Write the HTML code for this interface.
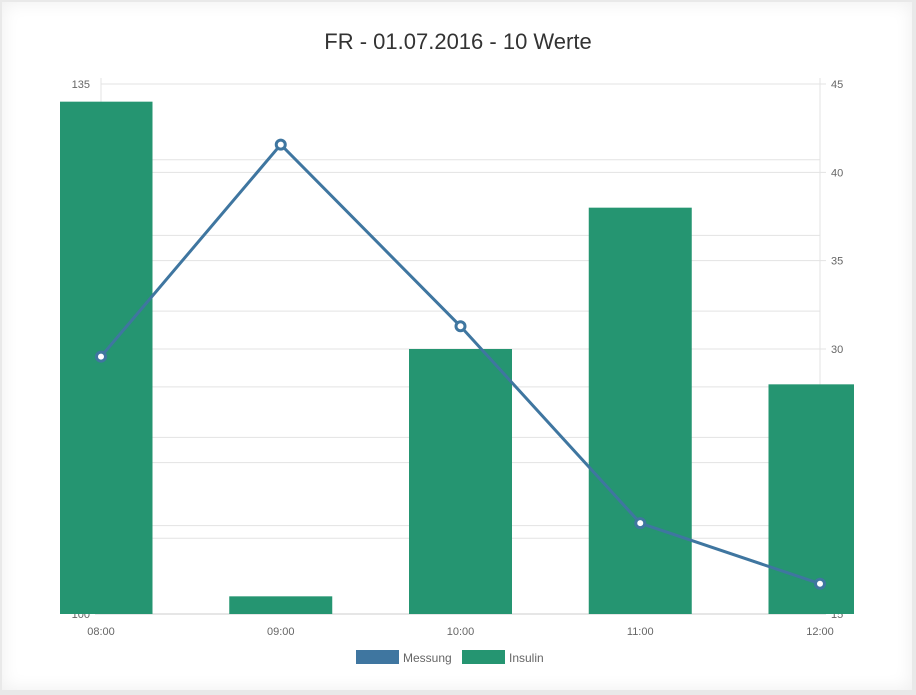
<!DOCTYPE html>
<html><head><meta charset="utf-8"><style>
body{margin:0;width:916px;height:695px;background:#e9e9e9;font-family:"Liberation Sans",sans-serif;overflow:hidden}
#card{position:absolute;left:2px;top:2px;width:910px;height:688px;background:#fff;box-shadow:inset 0 0 18px rgba(0,0,0,0.07)}
svg{position:absolute;left:0;top:0}
</style></head><body>
<div id="card"></div>
<svg id="chart" width="916" height="695">
<defs><clipPath id="plotclip"><rect x="60" y="0" width="794" height="695"/></clipPath></defs>
<text x="458" y="49" text-anchor="middle" font-size="22" fill="#333">FR - 01.07.2016 - 10 Werte</text>
<g id="grid"></g><g id="labels"></g><g id="bars" clip-path="url(#plotclip)"></g><g id="line"></g>
<g>
<rect x="356" y="650" width="43" height="14" fill="#3f76a0"/>
<text x="403" y="662" font-size="12" fill="#666">Messung</text>
<rect x="462" y="650" width="43" height="14" fill="#259571"/>
<text x="509" y="662" font-size="12" fill="#666">Insulin</text>
</g>
</svg>
<script>
const categories=["08:00","09:00","10:00","11:00","12:00"];
const messung=[117,131,119,106,102];
const insulin=[44,16,30,38,28];
const leftTicks=[100,105,110,115,120,125,130,135];
const rightTicks=[15,20,25,30,35,40,45];
const NS="http://www.w3.org/2000/svg";
const yTop=84,yBot=614,x0=101,x1=820;
const yL=v=>yBot-(v-100)/35*(yBot-yTop);
const yR=v=>yBot-(v-15)/30*(yBot-yTop);
const xC=i=>x0+i*(x1-x0)/(categories.length-1);
function mk(t,a,p){const e=document.createElementNS(NS,t);for(const k in a)e.setAttribute(k,a[k]);document.getElementById(p).appendChild(e);return e;}
leftTicks.forEach(v=>{const l=mk('line',{x1:x0,x2:x1,y1:yL(v),y2:yL(v),stroke:'#e3e3e3'},'grid');


const t=mk('text',{x:90,y:yL(v)+4,'text-anchor':'end','font-size':11,fill:'#666'},'labels');t.textContent=v;

});
rightTicks.forEach(v=>{const l=mk('line',{x1:x0,x2:x1+6,y1:yR(v),y2:yR(v),stroke:'#e3e3e3'},'grid');


const t=mk('text',{x:831,y:yR(v)+4,'font-size':11,fill:'#666'},'labels');t.textContent=v;

});
[x0,x1].forEach(x=>{const l=mk('line',{x1:x,x2:x,y1:yTop-6,y2:yBot,stroke:'#e3e3e3'},'grid');

});
const ax=mk('line',{x1:x0-6,x2:x1+6,y1:yBot,y2:yBot,stroke:'#ccc'},'grid');


categories.forEach((c,i)=>{const t=mk('text',{x:xC(i),y:635,'text-anchor':'middle','font-size':11,fill:'#666'},'labels');t.textContent=c;


const b=mk('rect',{x:xC(i)-51.5,y:yR(insulin[i]),width:103,height:yBot-yR(insulin[i]),fill:'#259571'},'bars');

});
const pl=mk('polyline',{points:messung.map((v,i)=>xC(i)+','+yL(v)).join(' '),fill:'none',stroke:'#3f76a0','stroke-width':3},'line');


messung.forEach((v,i)=>{const p=mk('circle',{cx:xC(i),cy:yL(v),r:4.5,fill:'#fff',stroke:'#3f76a0','stroke-width':3},'line');

});
</script>
</body></html>
